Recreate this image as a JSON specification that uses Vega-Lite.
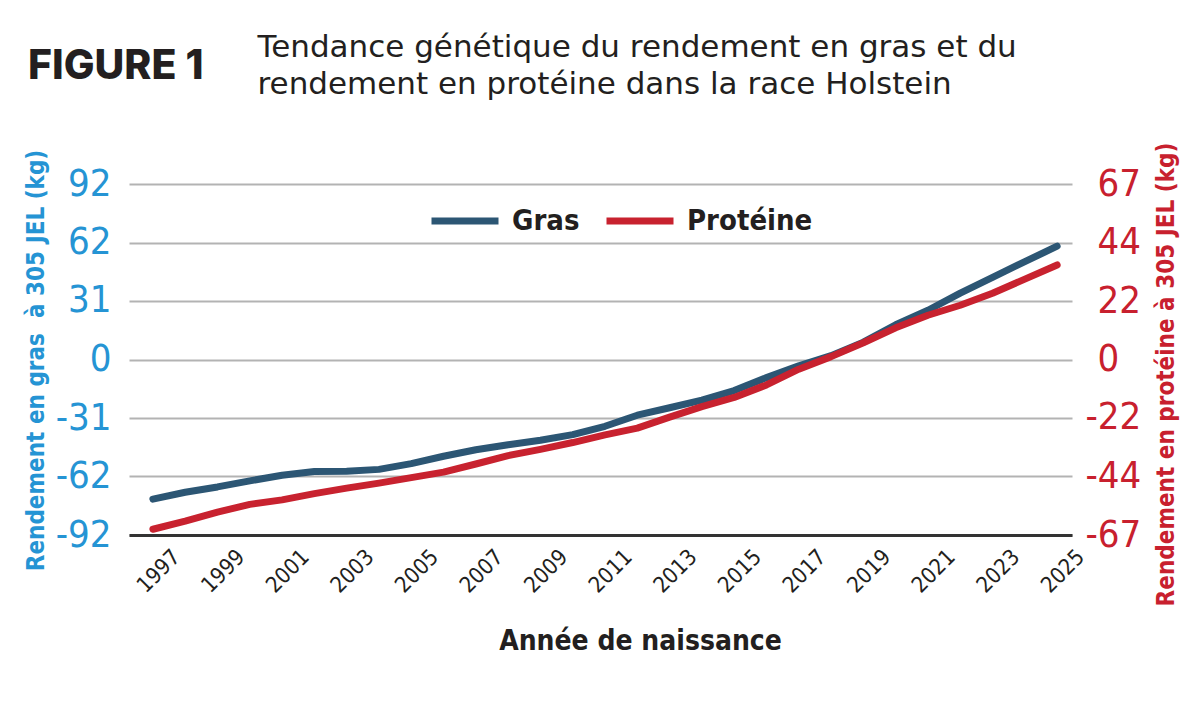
{
  "$schema": "https://vega.github.io/schema/vega-lite/v6.json",
  "width": 943,
  "height": 351,
  "autosize": {"type": "none"},
  "padding": {"left": 129, "top": 184, "right": 128, "bottom": 171},
  "background": "white",
  "title": {
    "text": "FIGURE 1",
    "anchor": "start",
    "frame": "group",
    "dx": -101,
    "dy": 89,
    "offset": 0,
    "baseline": "alphabetic",
    "font": "Inter",
    "fontSize": 41,
    "fontWeight": 800,
    "color": "#231f20"
  },
  "config": {"view": {"stroke": null}},
  "data": {
    "values": [
      {"annee": 1997, "serie": "Gras", "valeur": -73.2},
      {"annee": 1998, "serie": "Gras", "valeur": -69.6},
      {"annee": 1999, "serie": "Gras", "valeur": -66.8},
      {"annee": 2000, "serie": "Gras", "valeur": -63.6},
      {"annee": 2001, "serie": "Gras", "valeur": -60.7},
      {"annee": 2002, "serie": "Gras", "valeur": -58.7},
      {"annee": 2003, "serie": "Gras", "valeur": -58.6},
      {"annee": 2004, "serie": "Gras", "valeur": -57.6},
      {"annee": 2005, "serie": "Gras", "valeur": -54.6},
      {"annee": 2006, "serie": "Gras", "valeur": -50.7},
      {"annee": 2007, "serie": "Gras", "valeur": -47.3},
      {"annee": 2008, "serie": "Gras", "valeur": -44.7},
      {"annee": 2009, "serie": "Gras", "valeur": -42.3},
      {"annee": 2010, "serie": "Gras", "valeur": -39.4},
      {"annee": 2011, "serie": "Gras", "valeur": -35.0},
      {"annee": 2012, "serie": "Gras", "valeur": -29.2},
      {"annee": 2013, "serie": "Gras", "valeur": -25.3},
      {"annee": 2014, "serie": "Gras", "valeur": -21.3},
      {"annee": 2015, "serie": "Gras", "valeur": -16.3},
      {"annee": 2016, "serie": "Gras", "valeur": -9.5},
      {"annee": 2017, "serie": "Gras", "valeur": -3.3},
      {"annee": 2018, "serie": "Gras", "valeur": 2.0},
      {"annee": 2019, "serie": "Gras", "valeur": 9.1},
      {"annee": 2020, "serie": "Gras", "valeur": 18.2},
      {"annee": 2021, "serie": "Gras", "valeur": 25.8},
      {"annee": 2022, "serie": "Gras", "valeur": 34.8},
      {"annee": 2023, "serie": "Gras", "valeur": 43.1},
      {"annee": 2024, "serie": "Gras", "valeur": 51.3},
      {"annee": 2025, "serie": "Gras", "valeur": 59.4},
      {"annee": 1997, "serie": "Protéine", "valeur": -64.8},
      {"annee": 1998, "serie": "Protéine", "valeur": -61.7},
      {"annee": 1999, "serie": "Protéine", "valeur": -58.3},
      {"annee": 2000, "serie": "Protéine", "valeur": -55.3},
      {"annee": 2001, "serie": "Protéine", "valeur": -53.6},
      {"annee": 2002, "serie": "Protéine", "valeur": -51.2},
      {"annee": 2003, "serie": "Protéine", "valeur": -49.1},
      {"annee": 2004, "serie": "Protéine", "valeur": -47.2},
      {"annee": 2005, "serie": "Protéine", "valeur": -45.1},
      {"annee": 2006, "serie": "Protéine", "valeur": -43.0},
      {"annee": 2007, "serie": "Protéine", "valeur": -39.9},
      {"annee": 2008, "serie": "Protéine", "valeur": -36.7},
      {"annee": 2009, "serie": "Protéine", "valeur": -34.3},
      {"annee": 2010, "serie": "Protéine", "valeur": -31.7},
      {"annee": 2011, "serie": "Protéine", "valeur": -28.8},
      {"annee": 2012, "serie": "Protéine", "valeur": -26.2},
      {"annee": 2013, "serie": "Protéine", "valeur": -22.0},
      {"annee": 2014, "serie": "Protéine", "valeur": -18.0},
      {"annee": 2015, "serie": "Protéine", "valeur": -14.5},
      {"annee": 2016, "serie": "Protéine", "valeur": -9.7},
      {"annee": 2017, "serie": "Protéine", "valeur": -3.7},
      {"annee": 2018, "serie": "Protéine", "valeur": 1.1},
      {"annee": 2019, "serie": "Protéine", "valeur": 6.4},
      {"annee": 2020, "serie": "Protéine", "valeur": 12.1},
      {"annee": 2021, "serie": "Protéine", "valeur": 16.9},
      {"annee": 2022, "serie": "Protéine", "valeur": 20.7},
      {"annee": 2023, "serie": "Protéine", "valeur": 25.3},
      {"annee": 2024, "serie": "Protéine", "valeur": 30.7},
      {"annee": 2025, "serie": "Protéine", "valeur": 36.1}
    ]
  },
  "layer": [
    {
      "transform": [{"filter": "datum.serie === 'Gras'"}],
      "mark": {"type": "line", "strokeWidth": 7, "strokeCap": "round", "strokeJoin": "round"},
      "encoding": {
        "x": {
          "field": "annee",
          "type": "quantitative",
          "scale": {"domain": [1996.26, 2025.46], "nice": false, "zero": false},
          "axis": {
            "values": [1997, 1999, 2001, 2003, 2005, 2007, 2009, 2011, 2013, 2015, 2017, 2019, 2021, 2023, 2025],
            "format": "d",
            "labelAngle": -45,
            "labelAlign": "right",
            "labelBaseline": "middle",
            "labelFont": "DejaVu Sans Condensed, sans-serif",
            "labelFontSize": 22,
            "labelColor": "#231f20",
            "labelOffset": 23,
            "labelPadding": 18,
            "labelFlush": false,
            "labelOverlap": false,
            "ticks": false,
            "tickSize": 0,
            "grid": false,
            "domainColor": "#333333",
            "domainWidth": 3,
            "title": "Année de naissance",
            "titleFont": "DejaVu Sans Condensed, sans-serif",
            "titleFontSize": 28,
            "titleFontWeight": "bold",
            "titleColor": "#231f20",
            "titleX": 511,
            "titleY": 106,
            "titleAlign": "center",
            "titleBaseline": "middle"
          }
        },
        "y": {
          "field": "valeur",
          "type": "quantitative",
          "scale": {"domain": [-92, 92], "nice": false, "zero": false},
          "axis": {
            "values": [-92, -61.3333, -30.6667, 0, 30.6667, 61.3333, 92],
            "labelExpr": "datum.value < -1 ? '-' + ceil(-datum.value - 0.01) : '' + ceil(datum.value - 0.01)",
            "labelFont": "DejaVu Sans Condensed, sans-serif",
            "labelFontSize": 38,
            "labelColor": "#2594d4",
            "labelPadding": 18,
            "ticks": false,
            "tickSize": 0,
            "domain": false,
            "grid": true,
            "gridColor": "#b3b3b3",
            "gridWidth": 2,
            "title": "Rendement en gras\u00a0 à 305 JEL (kg)",
            "titleFont": "DejaVu Sans Condensed, sans-serif",
            "titleFontSize": 24,
            "titleFontWeight": "bold",
            "titleColor": "#2594d4",
            "titleAngle": -90,
            "titleX": -93,
            "titleY": 176,
            "titleAlign": "center",
            "titleBaseline": "middle"
          }
        },
        "color": {
          "field": "serie",
          "type": "nominal",
          "scale": {"domain": ["Gras", "Protéine"], "range": ["#2c5674", "#c8222f"]},
          "legend": {
            "orient": "none",
            "legendX": 299,
            "legendY": 0,
            "direction": "horizontal",
            "title": null,
            "padding": 0,
            "symbolType": "stroke",
            "symbolSize": 4489,
            "symbolStrokeWidth": 7,
            "labelFont": "DejaVu Sans Condensed, sans-serif",
            "labelFontSize": 29,
            "labelFontWeight": "bold",
            "labelColor": "#231f20",
            "labelOffset": 10,
            "columnPadding": 12
          }
        }
      }
    },
    {
      "transform": [{"filter": "datum.serie === 'Protéine'"}],
      "mark": {"type": "line", "strokeWidth": 7, "strokeCap": "round", "strokeJoin": "round"},
      "encoding": {
        "x": {
          "field": "annee",
          "type": "quantitative",
          "scale": {"domain": [1996.26, 2025.46], "nice": false, "zero": false},
          "axis": {
            "orient": "top",
            "labels": false,
            "ticks": false,
            "domain": false,
            "grid": false,
            "title": ["Tendance génétique du rendement en gras et du", "rendement en protéine dans la race Holstein"],
            "titleFont": "DejaVu Sans",
            "titleFontSize": 31,
            "titleFontWeight": "normal",
            "titleColor": "#231f20",
            "titleX": 128,
            "titleY": -128,
            "titleAlign": "left",
            "titleBaseline": "alphabetic",
            "titleLineHeight": 37
          }
        },
        "y": {
          "field": "valeur",
          "type": "quantitative",
          "scale": {"domain": [-67, 67], "nice": false, "zero": false},
          "axis": {
            "orient": "right",
            "values": [-67, -44.6667, -22.3333, 0, 22.3333, 44.6667, 67],
            "labelExpr": "datum.value < -1 ? '-' + floor(-datum.value + 0.01) : '' + floor(datum.value + 0.01)",
            "labelFont": "DejaVu Sans Condensed, sans-serif",
            "labelFontSize": 38,
            "labelColor": "#c8202e",
            "labelAlign": "left",
            "labelPadding": {"condition": {"test": "datum.value < -1", "value": 13}, "value": 25},
            "ticks": false,
            "tickSize": 0,
            "domain": false,
            "grid": false,
            "title": "Rendement en protéine à 305 JEL (kg)",
            "titleFont": "DejaVu Sans Condensed, sans-serif",
            "titleFontSize": 24,
            "titleFontWeight": "bold",
            "titleColor": "#c8202e",
            "titleAngle": -90,
            "titleX": 94,
            "titleY": 190,
            "titleAlign": "center",
            "titleBaseline": "middle"
          }
        },
        "color": {"field": "serie", "type": "nominal"}
      }
    }
  ],
  "resolve": {"scale": {"y": "independent"}, "axis": {"x": "independent", "y": "independent"}}
}
